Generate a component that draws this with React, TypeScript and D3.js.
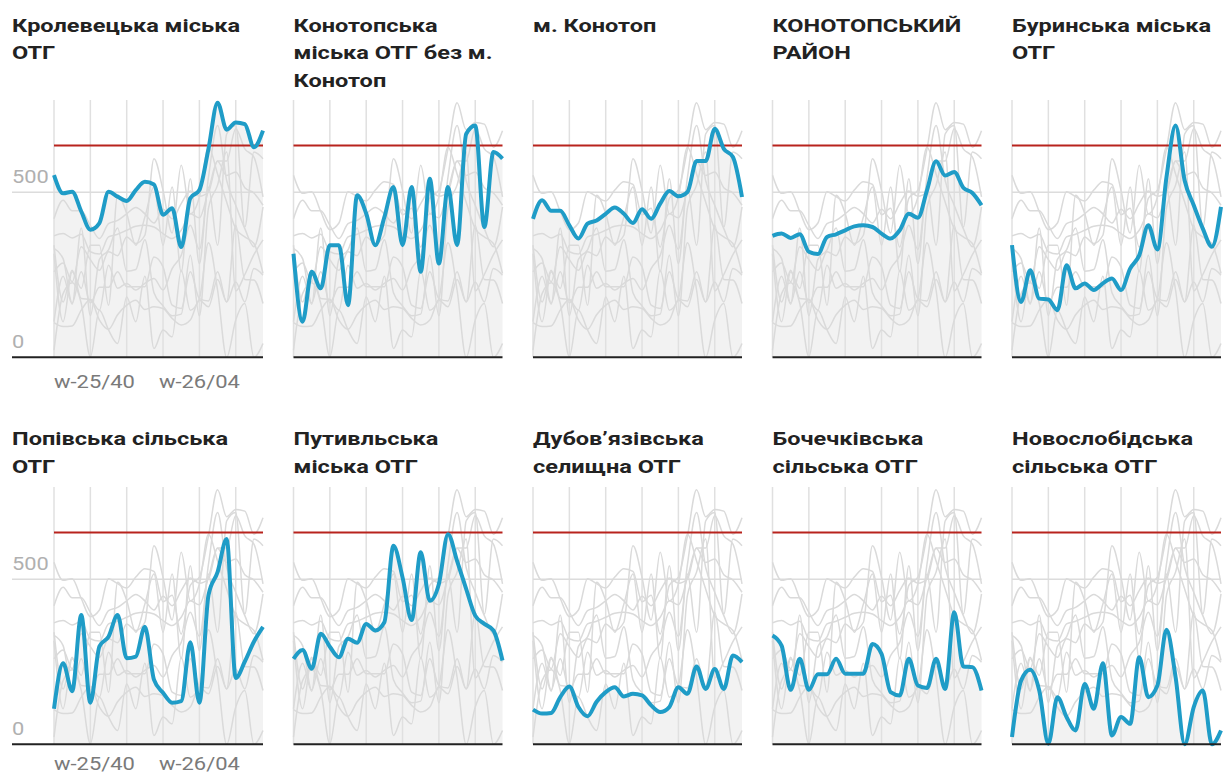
import * as d3 from 'd3'

// week categories (x axis)
const weeks = [
  'w-25/40', 'w-25/41', 'w-25/42', 'w-25/43', 'w-25/44', 'w-25/45', 'w-25/46', 'w-25/47',
  'w-25/48', 'w-25/49', 'w-25/50', 'w-25/51', 'w-25/52', 'w-26/01', 'w-26/02', 'w-26/03',
  'w-26/04', 'w-26/05', 'w-26/06', 'w-26/07', 'w-26/08', 'w-26/09', 'w-26/10', 'w-26/11',
]
const labelWeeks = ['w-25/40', 'w-26/04']
const gridWeeks = ['w-25/40', 'w-25/44', 'w-25/48', 'w-25/52', 'w-26/04', 'w-26/08']
const yTicks = [0, 500]
const threshold = 642
const yMax = 780

const titles = [
  ['Кролевецька міська', 'ОТГ'],
  ['Конотопська', 'міська ОТГ без м.', 'Конотоп'],
  ['м. Конотоп'],
  ['КОНОТОПСЬКИЙ', 'РАЙОН'],
  ['Буринська міська', 'ОТГ'],
  ['Попівська сільська', 'ОТГ'],
  ['Путивльська', 'міська ОТГ'],
  ['Дубов’язівська', 'селищна ОТГ'],
  ['Бочечківська', 'сільська ОТГ'],
  ['Новослобідська', 'сільська ОТГ'],
]

const krolevets = [552, 497, 502, 442, 387, 407, 502, 487, 474, 507, 532, 524, 432, 452, 334, 482, 507, 632, 772, 690, 712, 707, 637, 687]
const konotopOtg = [314, 108, 259, 209, 340, 340, 158, 491, 436, 340, 425, 516, 340, 516, 259, 541, 284, 516, 340, 677, 703, 395, 622, 602]
const konotopCity = [420, 476, 444, 444, 400, 360, 405, 415, 435, 454, 435, 407, 449, 420, 466, 504, 488, 501, 595, 595, 693, 632, 607, 486]
const konotopDistrict = [368, 375, 362, 373, 320, 313, 365, 373, 385, 397, 400, 395, 375, 360, 385, 435, 423, 506, 594, 551, 562, 514, 498, 461]
const buryn = [340, 168, 264, 178, 175, 143, 279, 209, 224, 204, 224, 239, 204, 269, 309, 400, 327, 546, 703, 536, 461, 390, 335, 456]
const popivka = [108, 246, 161, 392, 126, 297, 326, 392, 261, 266, 356, 196, 156, 126, 131, 309, 126, 452, 522, 622, 201, 251, 311, 356]
const putyvl = [259, 286, 229, 335, 296, 264, 320, 308, 365, 345, 370, 602, 506, 377, 582, 435, 486, 637, 556, 471, 390, 365, 345, 254]
const dubovyazivka = [105, 93, 95, 143, 175, 113, 85, 129, 158, 173, 145, 153, 148, 118, 98, 113, 173, 153, 236, 168, 228, 168, 269, 249]
const bochechky = [330, 299, 165, 259, 165, 212, 212, 259, 214, 214, 214, 304, 274, 158, 148, 259, 178, 171, 259, 168, 400, 236, 234, 163]
const novoslobidka = [22, 193, 226, 163, 2, 143, 83, 42, 183, 108, 246, 27, 83, 62, 264, 143, 178, 347, 204, 0, 113, 163, 0, 42]

const allSeries = [
  krolevets, konotopOtg, konotopCity, konotopDistrict, buryn,
  popivka, putyvl, dubovyazivka, bochechky, novoslobidka,
]

const panelLeft = 54
const panelStep = 239.5
const plotW = 209
const plotH = 257.3
const rows = [
  { titleY: 31.5, top: 100, labelDy: 31 },
  { titleY: 445, top: 487, labelDy: 25.5 },
]
const lineH = 27.5
const font = 'Roboto, "Noto Sans", sans-serif'

const x = d3.scalePoint<string>().domain(weeks).range([0, plotW])
const y = d3.scaleLinear().domain([0, yMax]).range([plotH, 0])

const line = d3
  .line<number>()
  .x((_, i) => x(weeks[i]) as number)
  .y((d) => y(d))
  .curve(d3.curveMonotoneX)

const area = d3
  .area<number>()
  .x((_, i) => x(weeks[i]) as number)
  .y0(y(0))
  .y1((d) => y(d))
  .curve(d3.curveMonotoneX)

// text looks horizontally wide in the source, so stretch it a bit
function WideText({ x: tx, y: ty, k, children, ...rest }: any) {
  return (
    <g transform={`translate(${tx},${ty}) scale(${k},1)`}>
      <text fontFamily={font} {...rest}>
        {children}
      </text>
    </g>
  )
}

function Panel({ idx }: { idx: number }) {
  const col = idx % 5
  const row = rows[Math.floor(idx / 5)]
  const px = panelLeft + col * panelStep
  const isFirst = col === 0
  const axisLeft = isFirst ? -42 : 0
  const values = allSeries[idx]
  const titleX = isFirst ? 12 : px

  return (
    <g>
      {titles[idx].map((t, i) => (
        <WideText
          key={i}
          x={titleX}
          y={row.titleY + i * lineH}
          k={1.24}
          fontWeight={700}
          fontSize={19}
          fill="#222"
        >
          {t}
        </WideText>
      ))}
      <g transform={`translate(${px},${row.top})`}>
        <path d={area(values) ?? ''} fill="#f2f2f2" />
        {gridWeeks.map((w) => (
          <line
            key={w}
            x1={x(w)}
            x2={x(w)}
            y1={0}
            y2={plotH}
            stroke="#e0e0e0"
            strokeWidth={1.5}
          />
        ))}
        {yTicks
          .filter((t) => t > 0)
          .map((t) => (
            <line
              key={t}
              x1={axisLeft}
              x2={plotW}
              y1={y(t)}
              y2={y(t)}
              stroke="#dcdcdc"
              strokeWidth={1.5}
            />
          ))}
        {allSeries.map((s, i) => (
          <path
            key={i}
            d={line(s) ?? ''}
            fill="none"
            stroke="#dadada"
            strokeWidth={1.5}
          />
        ))}
        <line
          x1={0}
          x2={plotW}
          y1={y(threshold)}
          y2={y(threshold)}
          stroke="#b8231d"
          strokeWidth={2}
        />
        <path
          d={line(values) ?? ''}
          fill="none"
          stroke="#1f9cc7"
          strokeWidth={4}
          strokeLinejoin="round"
        />
        <line x1={axisLeft} x2={plotW} y1={y(0)} y2={y(0)} stroke="#222" strokeWidth={2} />
        {isFirst &&
          yTicks.map((t) => (
            <WideText key={t} x={axisLeft} y={y(t) - 9} k={1.15} fontSize={19} fill="#b0b0b0">
              {t}
            </WideText>
          ))}
        {isFirst &&
          labelWeeks.map((w, i) => (
            <WideText
              key={w}
              x={x(w)}
              y={plotH + row.labelDy}
              k={1.22}
              textAnchor={i === 0 ? 'start' : 'middle'}
              fontSize={18}
              fill="#7a7a7a"
            >
              {w}
            </WideText>
          ))}
      </g>
    </g>
  )
}

export default function App() {
  return (
    <svg
      width={1227}
      height={776}
      style={{ position: 'absolute', left: 0, top: 0, background: '#fff' }}
    >
      {allSeries.map((_, i) => (
        <Panel key={i} idx={i} />
      ))}
    </svg>
  )
}
